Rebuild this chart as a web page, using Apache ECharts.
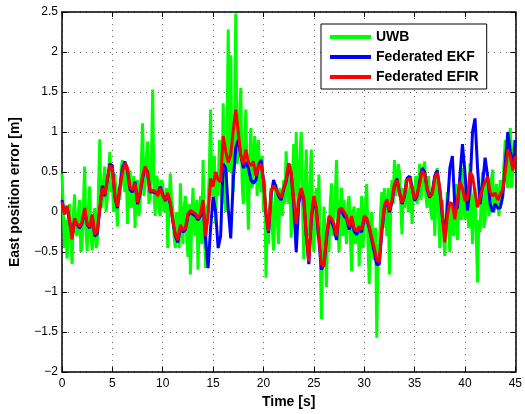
<!DOCTYPE html>
<html>
<head>
<meta charset="utf-8">
<script src="https://cdn.jsdelivr.net/npm/echarts@6/dist/echarts.min.js"></script>
<style>
  html, body { margin: 0; padding: 0; background: #fff; }
  #chart { width: 525px; height: 414px; }
</style>
</head>
<body>
<div id="chart"></div>
<script>
// sample spacing of the traces, seconds
const uwbStep = 0.125;
const filterStep = 0.25;

// UWB raw error, one row = 5 s
const uwb = [
  0.48,0.05,-0.45,-0.10,-0.58,-0.20,0.10,-0.35,-0.65,-0.05,0.22,-0.25,-0.30,0.00,0.15,-0.50,-0.40,0.10,0.57,-0.20,
  -0.49,0.05,0.32,-0.30,-0.48,-0.10,0.05,-0.45,-0.40,0.30,0.91,0.05,0.10,0.40,0.57,0.00,0.20,0.50,0.75,0.25,
  0.35,0.00,0.48,0.20,-0.18,0.30,0.15,0.55,0.65,0.35,0.25,0.60,-0.15,0.30,0.52,0.05,0.20,0.45,-0.20,0.30,
  0.40,-0.05,0.10,0.60,1.11,0.20,0.35,0.70,0.88,0.10,0.20,0.60,1.53,0.30,-0.05,0.45,0.40,0.05,-0.05,0.40,
  0.35,0.00,0.05,0.30,-0.45,0.10,0.48,0.15,0.05,-0.30,-0.45,0.00,-0.20,-0.45,0.36,-0.10,-0.40,0.05,0.20,-0.30,
  -0.56,0.10,-0.78,-0.10,0.30,-0.20,-0.30,0.15,-0.72,0.00,0.20,-0.40,0.65,-0.10,-0.70,0.05,0.10,0.50,1.28,0.20,
  0.40,0.70,-0.15,0.45,0.20,0.90,0.60,0.10,1.36,0.50,0.00,0.90,2.28,0.50,1.96,0.60,0.25,1.10,2.48,0.60,
  0.75,1.20,1.55,0.40,0.10,0.80,1.28,0.40,-0.22,0.60,1.05,0.30,0.50,0.95,0.70,0.20,0.90,0.40,0.25,0.70,
  0.00,0.40,-0.82,-0.10,-0.40,0.05,0.30,-0.20,-0.48,0.10,0.35,-0.10,-0.40,0.30,0.15,-0.05,0.40,0.10,0.76,0.30,
  0.10,0.60,-0.32,0.40,0.85,0.00,1.00,0.20,0.30,0.70,1.00,0.10,-0.59,0.30,0.78,-0.30,-0.20,0.40,0.78,-0.20,
  -0.50,0.10,0.30,-0.30,0.47,-0.40,-1.34,-0.50,0.07,-0.30,-0.94,-0.20,-0.50,0.10,0.36,-0.30,-0.30,0.20,0.65,-0.10,
  -0.50,0.10,0.30,-0.30,0.15,-0.20,-0.40,0.10,0.20,-0.30,-0.74,0.00,0.07,-0.40,-0.25,0.05,-0.68,-0.10,0.20,-0.45,
  -0.20,0.10,0.35,-0.40,-0.90,-0.10,0.00,-0.50,-0.60,-0.20,-1.57,-0.40,-0.60,0.00,0.25,-0.20,0.30,0.00,-0.30,0.30,
  -0.78,0.00,0.40,0.10,0.65,0.20,0.20,0.60,0.50,0.10,-0.28,0.30,0.05,0.40,0.30,0.00,0.05,0.45,-0.15,0.30,
  0.20,0.45,0.10,0.30,0.60,0.15,0.30,0.55,0.63,0.20,0.05,0.45,0.20,0.00,-0.10,0.35,-0.30,0.20,0.55,0.10,
  -0.45,0.00,0.15,-0.30,-0.55,-0.10,0.25,-0.20,-0.50,0.10,0.00,-0.30,0.10,0.35,-0.35,0.05,0.30,-0.10,0.55,0.10,
  -0.10,0.30,0.10,-0.20,0.61,0.00,-0.40,0.20,0.30,-0.30,-0.88,-0.10,-0.25,0.20,0.50,-0.20,-0.10,0.40,0.25,-0.05,
  0.05,0.40,0.53,0.00,0.05,0.35,0.20,-0.05,0.40,0.10,0.25,0.60,0.90,0.40,0.30,0.80,1.05,0.30,0.50,0.90,
  0.85
];

const fedEKF = [
  0.15,-0.02,0.06,-0.12,-0.30,-0.10,-0.16,-0.20,-0.14,0.02,-0.16,-0.20,-0.05,-0.30,-0.27,0.03,0.33,0.20,0.40,0.60,
  0.58,0.18,0.05,0.32,0.55,0.63,0.52,0.28,0.25,0.38,0.10,0.22,0.42,0.55,0.50,0.25,0.25,0.24,0.22,0.32,
  0.22,0.14,0.22,0.10,-0.12,-0.30,-0.38,-0.20,-0.25,-0.22,-0.05,0.00,-0.03,-0.05,-0.10,-0.05,0.10,-0.35,-0.70,-0.20,
  0.19,0.00,-0.45,-0.30,0.60,0.55,0.05,-0.33,0.40,0.80,0.90,0.70,0.55,0.62,0.55,0.40,0.36,0.40,0.58,0.65,
  0.40,-0.02,-0.26,0.20,0.40,0.30,0.20,0.15,0.28,0.38,0.58,0.48,0.10,-0.50,0.10,0.28,0.15,-0.30,-0.65,-0.10,
  0.18,0.02,-0.35,-0.72,-0.66,-0.35,-0.10,-0.12,-0.20,-0.35,0.00,0.02,-0.05,-0.08,-0.22,-0.10,-0.24,-0.28,-0.22,-0.25,
  -0.08,-0.10,-0.20,-0.35,-0.50,-0.66,-0.65,-0.25,0.05,0.14,0.00,0.12,0.32,0.42,0.25,0.10,0.20,0.42,0.45,0.32,
  0.14,0.20,0.38,0.55,0.50,0.28,0.18,0.25,0.45,0.52,0.28,-0.05,-0.30,0.05,0.55,0.70,0.05,0.05,0.45,0.85,
  0.50,0.02,0.30,1.00,1.17,0.55,0.10,0.35,0.68,0.45,0.10,0.00,0.10,0.05,0.05,0.20,0.60,1.00,0.75,0.55,
  0.90
];

const fedEFIR = [
  0.13,-0.03,0.08,-0.10,-0.34,-0.08,-0.15,-0.18,-0.12,0.05,-0.15,-0.18,-0.03,-0.28,-0.24,0.05,0.30,0.22,0.42,0.58,
  0.55,0.20,0.07,0.30,0.50,0.61,0.55,0.30,0.28,0.36,0.12,0.25,0.45,0.57,0.48,0.26,0.27,0.26,0.20,0.30,
  0.20,0.15,0.24,0.12,-0.10,-0.28,-0.35,-0.16,-0.22,-0.20,-0.02,0.02,0.00,-0.02,-0.08,-0.02,0.15,-0.30,-0.05,0.42,
  0.32,0.50,0.40,0.38,0.95,0.76,0.62,0.72,1.02,1.28,1.00,0.70,0.60,0.78,0.62,0.58,0.63,0.45,0.58,0.60,
  0.40,-0.02,-0.24,0.25,0.33,0.28,0.23,0.18,0.30,0.40,0.61,0.50,0.16,-0.15,0.18,0.30,0.18,-0.28,-0.62,-0.05,
  0.20,0.05,-0.30,-0.65,-0.68,-0.30,-0.05,-0.08,-0.15,-0.30,0.03,0.05,0.00,-0.05,-0.18,-0.05,-0.20,-0.24,-0.18,-0.22,
  -0.05,-0.08,-0.18,-0.32,-0.45,-0.60,-0.62,-0.20,0.08,0.16,0.02,0.15,0.35,0.40,0.22,0.12,0.22,0.40,0.42,0.30,
  0.16,0.22,0.35,0.51,0.47,0.30,0.20,0.22,0.42,0.49,0.30,0.00,-0.38,-0.05,0.12,0.10,-0.09,0.15,0.38,0.30,
  0.14,0.16,0.50,0.45,0.25,0.06,0.18,0.30,0.38,0.44,0.25,0.20,0.24,0.15,0.22,0.28,0.50,0.78,0.70,0.52,
  0.70
];

const seriesNames = ['UWB', 'Federated EKF', 'Federated EFIR'];
const seriesColors = ['#00ff00', '#0000ff', '#ff0000'];
const seriesSteps = [uwbStep, filterStep, filterStep];

const font = '"Liberation Sans", Arial, Helvetica, sans-serif';

const toPairs = (arr, step) => arr.map((v, i) => [i * step, v]);

const gridLine = { show: true, lineStyle: { color: '#666', type: [1, 5], width: 1 } };
const frame = { show: true, onZero: false, lineStyle: { color: '#000', width: 1.5 } };
const innerTick = { show: true, inside: true, length: 5, lineStyle: { color: '#000' } };

const chart = echarts.init(document.getElementById('chart'));

chart.setOption({
  animation: false,
  backgroundColor: '#fff',
  grid: { left: 60, right: 7, top: 12, bottom: 41 },
  legend: {
    data: seriesNames,
    orient: 'vertical',
    left: 321,
    top: 24,
    padding: [5, 8, 4, 9],
    itemGap: 4,
    itemWidth: 41,
    itemHeight: 4,
    icon: 'rect',
    backgroundColor: '#fff',
    borderColor: '#000',
    borderWidth: 1,
    borderRadius: 0,
    textStyle: { fontFamily: font, fontSize: 14, fontWeight: 'bold', color: '#000', lineHeight: 16 }
  },
  xAxis: [{
    type: 'value',
    min: 0, max: 45, interval: 5,
    name: 'Time [s]',
    nameLocation: 'middle',
    nameGap: 22,
    nameTextStyle: { fontFamily: font, fontSize: 14, fontWeight: 'bold', color: '#000' },
    axisLine: frame,
    axisTick: innerTick,
    axisLabel: { fontFamily: font, fontSize: 12, color: '#000', margin: 6 },
    splitLine: gridLine
  }, {
    type: 'value', position: 'top',
    min: 0, max: 45, interval: 5,
    axisLine: frame, axisTick: innerTick,
    axisLabel: { show: false }, splitLine: { show: false }
  }],
  yAxis: [{
    type: 'value',
    min: -2, max: 2.5, interval: 0.5,
    name: 'East position error [m]',
    nameLocation: 'middle',
    nameGap: 40,
    nameTextStyle: { fontFamily: font, fontSize: 14, fontWeight: 'bold', color: '#000' },
    axisLine: frame,
    axisTick: innerTick,
    axisLabel: {
      fontFamily: font, fontSize: 12, color: '#000', margin: 4,
      formatter: v => String(v).replace('-', '\u2212')
    },
    splitLine: gridLine
  }, {
    type: 'value', position: 'right',
    min: -2, max: 2.5, interval: 0.5,
    axisLine: frame, axisTick: innerTick,
    axisLabel: { show: false }, splitLine: { show: false }
  }],
  series: [uwb, fedEKF, fedEFIR].map((arr, k) => ({
    name: seriesNames[k],
    type: 'line',
    data: toPairs(arr, seriesSteps[k]),
    showSymbol: false,
    symbol: 'none',
    itemStyle: { color: seriesColors[k] },
    lineStyle: { color: seriesColors[k], width: 3 },
    z: 2 + k
  }))
});
</script>
</body>
</html>
